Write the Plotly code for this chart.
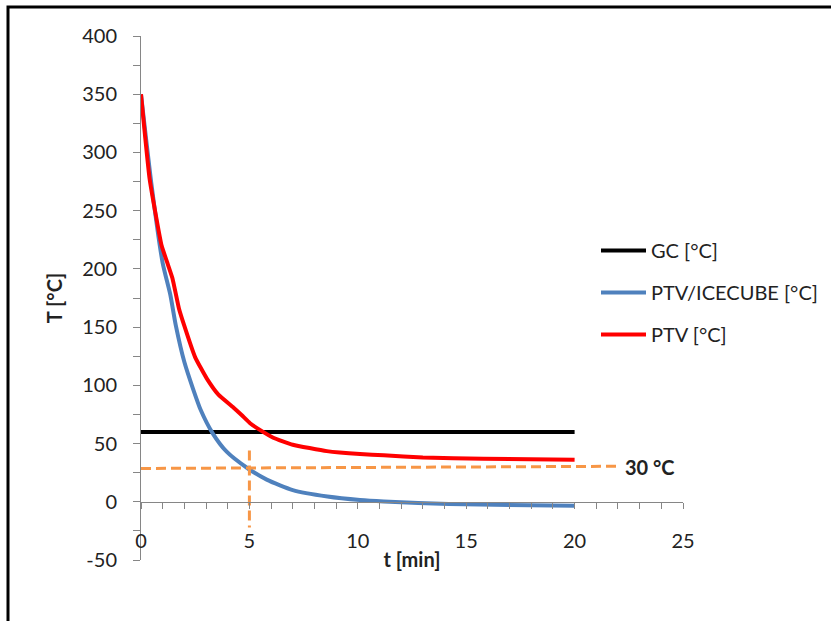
import plotly.graph_objects as go

# ---- data ----
t_gc = [0, 20]
T_gc = [60, 60]

t_ice = [0, 0.5, 1.0, 1.35, 1.6, 2.0, 2.4, 2.75, 3.3, 3.95, 4.9, 5.8, 7.0, 8.6, 10.1, 11.2, 14.2, 20]
T_ice = [350, 270, 205, 178, 152, 120, 97, 79, 59, 43, 29, 19, 10, 4.5, 1.5, 0.2, -2, -3.5]

t_ptv = [0, 0.4, 0.95, 1.2, 1.45, 1.75, 2.0, 2.5, 3.03, 3.57, 4.26, 4.64, 5.03, 5.5, 6.1, 7.0, 8.57, 10.1, 11.2, 13.0, 15.8, 20]
T_ptv = [350, 277, 220, 206, 192, 166, 151, 124, 106, 92, 81, 74.5, 67.5, 61.5, 55, 49, 43.5, 41, 40, 38, 37, 36]

h_ref_t = [0, 22.1]
h_ref_T = [28.6, 30.5]
v_ref_t = [5, 5]
v_ref_T = [44, -22]

label_30 = "30 °C"
x_ticks = [0, 5, 10, 15, 20, 25]
y_ticks = [-50, 0, 50, 100, 150, 200, 250, 300, 350, 400]
y_tick_text = ["-50", "0", "50", "100", "150", "200", "250", "300", "350", "400"]

FONT = "Lato"
W, H = 831, 621
L, R, T, B = 141, 148, 36, 61

fig = go.Figure()
fig.add_trace(go.Scatter(x=t_gc, y=T_gc, mode="lines", name="GC [°C]",
                         line=dict(color="#000000", width=4), legendgroup="a"))
fig.add_trace(go.Scatter(x=t_ice, y=T_ice, mode="lines", name="PTV/ICECUBE [°C]",
                         line=dict(color="#4F81BD", width=4, shape="spline", smoothing=0.6),
                         legendgroup="b"))
fig.add_trace(go.Scatter(x=t_ptv, y=T_ptv, mode="lines", name="PTV [°C]",
                         line=dict(color="#FF0000", width=4, shape="spline", smoothing=0.4),
                         legendgroup="c"))
fig.add_trace(go.Scatter(x=h_ref_t, y=h_ref_T, mode="lines", showlegend=False,
                         line=dict(color="#F79646", width=3, dash="10px,5px")))
fig.add_trace(go.Scatter(x=v_ref_t, y=v_ref_T, mode="lines", showlegend=False,
                         line=dict(color="#F79646", width=3, dash="10px,5px")))

fig.add_annotation(x=22.25, y=30, xref="x", yref="y", text="<b>%s</b>" % label_30,
                   showarrow=False, xanchor="left", yanchor="middle",
                   font=dict(family=FONT, size=20, color="#222222"))

# outer frame
pw, ph = W - L - R, H - T - B
def px(x): return (x - L) / pw
def py(y): return (H - B - y) / ph
fig.add_shape(type="rect", xref="paper", yref="paper",
              x0=px(8), x1=px(W + 20), y0=py(H + 20), y1=py(7),
              line=dict(color="#000000", width=3), fillcolor="rgba(0,0,0,0)")

axis_col = "#868686"
fig.update_layout(
    width=W, height=H,
    margin=dict(l=L, r=R, t=T, b=B, autoexpand=False),
    paper_bgcolor="white", plot_bgcolor="white",
    font=dict(family=FONT, size=20, color="#222222"),
    showlegend=True,
    legend=dict(x=px(596), y=py(231), xanchor="left", yanchor="top",
                bgcolor="rgba(0,0,0,0)", font=dict(family=FONT, size=20, color="#222222"),
                traceorder="grouped", tracegroupgap=13, itemwidth=45),
    xaxis=dict(range=[0, 25], tickvals=x_ticks, ticks="outside", ticklen=6,
               tickcolor=axis_col, showline=True, linecolor=axis_col, linewidth=1,
               showgrid=False, zeroline=False, anchor="free", position=50 / 450,
               ticklabelstandoff=15, automargin=False,
               minor=dict(dtick=1, ticks="outside", ticklen=6, tickcolor=axis_col),
               title=dict(text="<b>t [min]</b>", standoff=2,
                          font=dict(family=FONT, size=20, color="#222222"))),
    yaxis=dict(range=[-50, 400], tickvals=y_ticks, ticktext=y_tick_text,
               ticks="outside", ticklen=7,
               tickcolor=axis_col, showline=True, linecolor=axis_col, linewidth=1,
               showgrid=False, zeroline=False, ticklabelstandoff=12, automargin=False,
               minor=dict(dtick=25, ticks="outside", ticklen=7, tickcolor=axis_col),
               title=dict(text="<b>T [°C]</b>", standoff=14,
                          font=dict(family=FONT, size=20, color="#222222"))),
)

fig.write_html("out.html", config={"displayModeBar": False},
               post_script="document.body.style.margin='0';")
